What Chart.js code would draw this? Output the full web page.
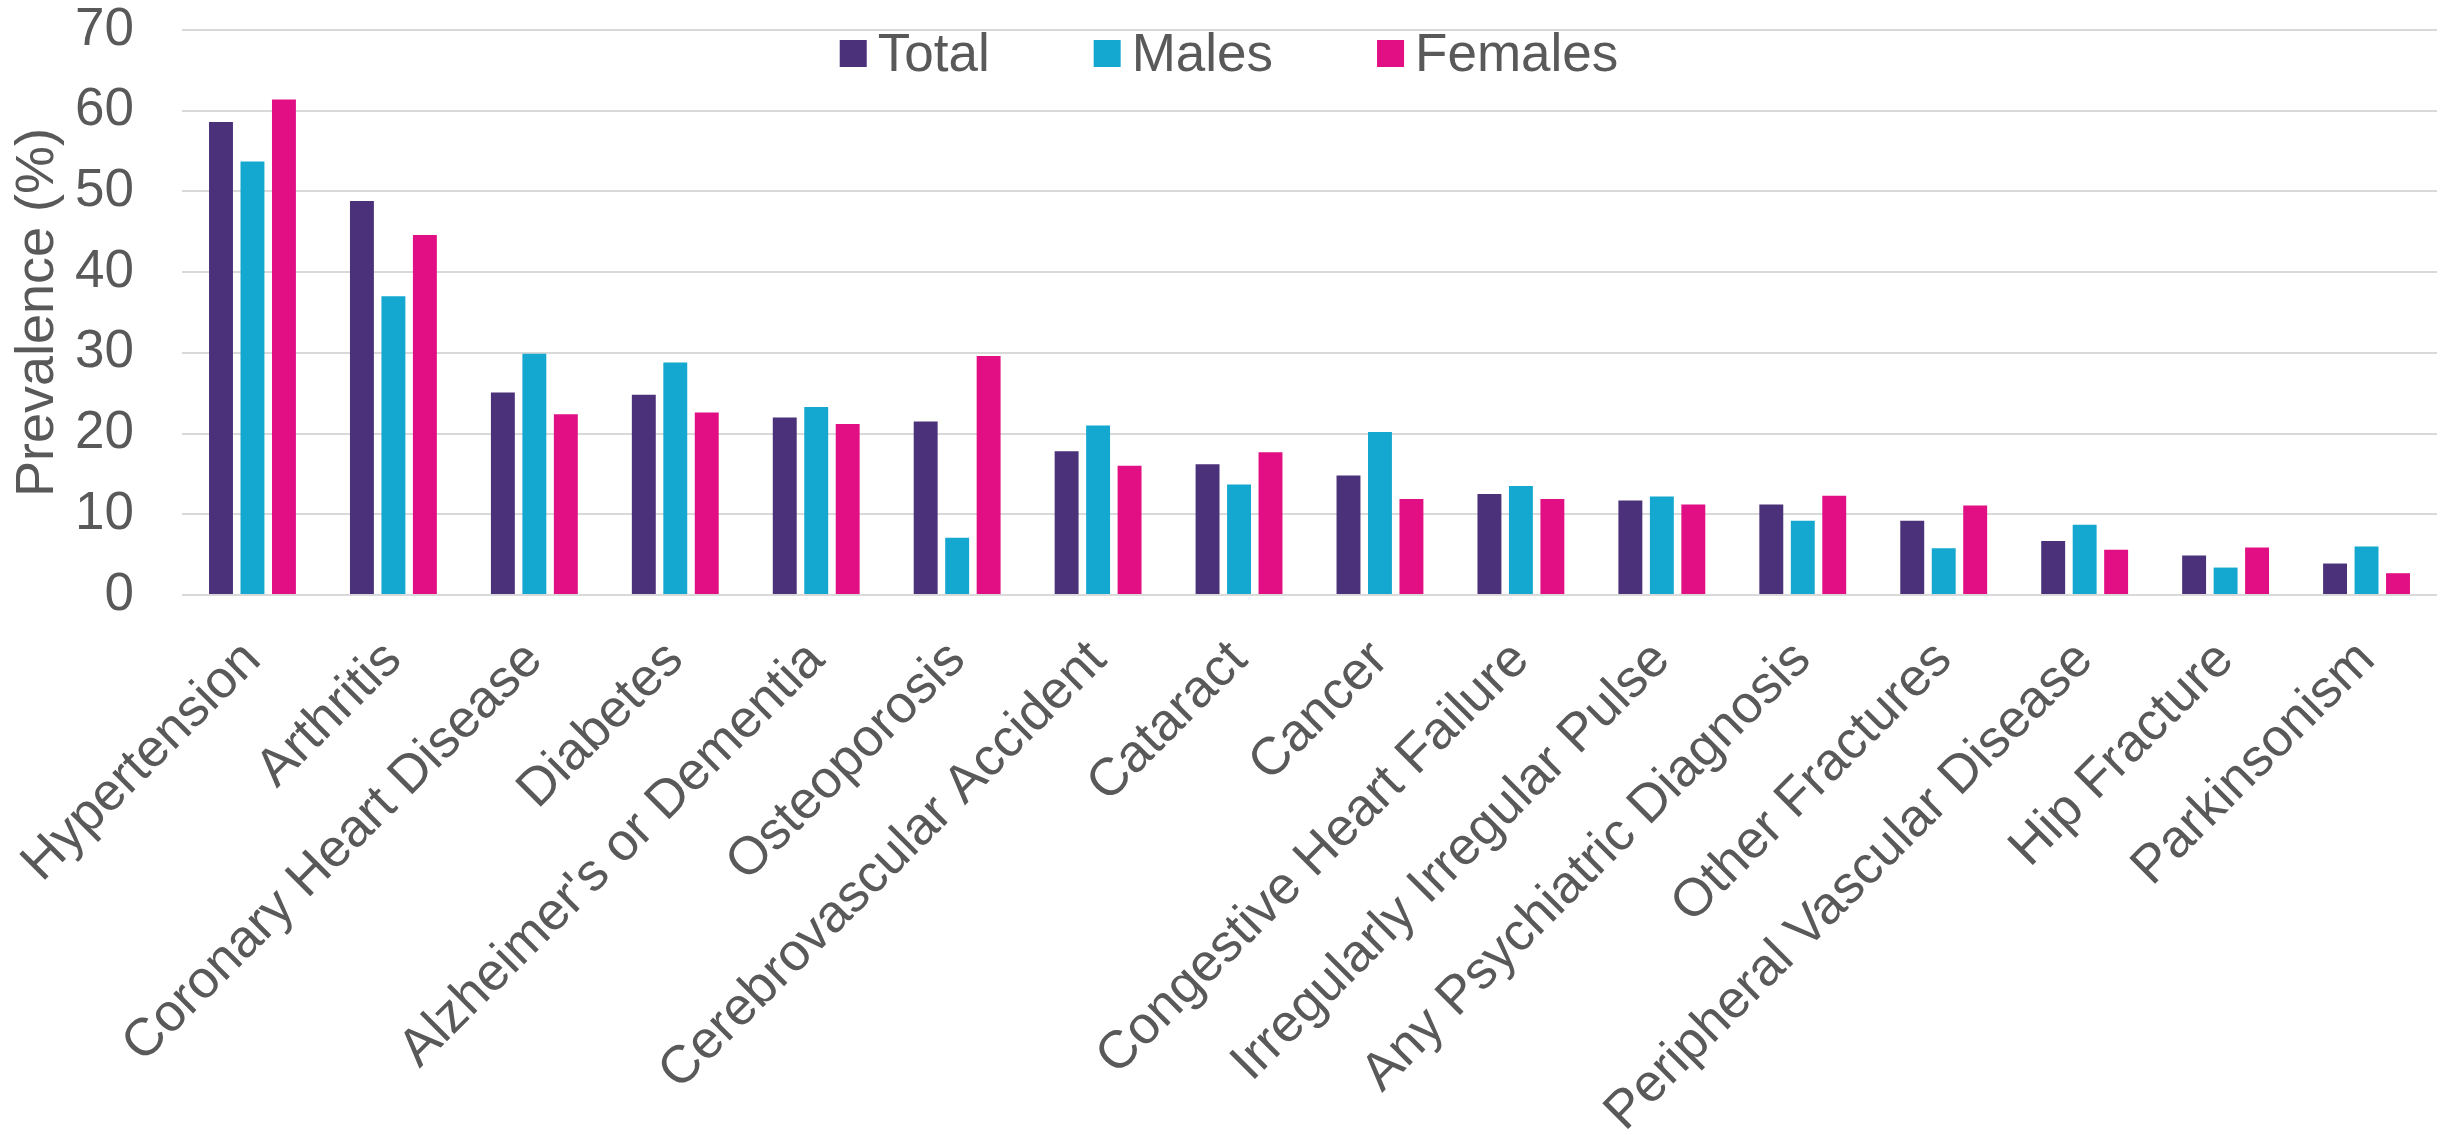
<!DOCTYPE html>
<html>
<head>
<meta charset="utf-8">
<script src="https://cdn.jsdelivr.net/npm/chart.js@4.4.1/dist/chart.umd.min.js"></script>
<style>
  html, body { margin: 0; padding: 0; background: #ffffff; }
  #wrap { width: 2450px; height: 1135px; }
</style>
</head>
<body>
<div id="wrap"><canvas id="c" width="2450" height="1135"></canvas></div>
<script>
const categories = [
  "Hypertension", "Arthritis", "Coronary Heart Disease", "Diabetes",
  "Alzheimer's or Dementia", "Osteoporosis", "Cerebrovascular Accident",
  "Cataract", "Cancer", "Congestive Heart Failure", "Irregularly Irregular Pulse",
  "Any Psychiatric Diagnosis", "Other Fractures", "Peripheral Vascular Disease",
  "Hip Fracture", "Parkinsonism"
];
const seriesNames = ["Total", "Males", "Females"];
const totalValues  = [58.6, 48.8, 25.1, 24.8, 22.0, 21.5, 17.8, 16.2, 14.8, 12.5, 11.7, 11.2, 9.2, 6.7, 4.9, 3.9];
const maleValues   = [53.7, 37.0, 29.9, 28.8, 23.3, 7.1, 21.0, 13.7, 20.2, 13.5, 12.2, 9.2, 5.8, 8.7, 3.4, 6.0];
const femaleValues = [61.4, 44.6, 22.4, 22.6, 21.2, 29.6, 16.0, 17.7, 11.9, 11.9, 11.2, 12.3, 11.1, 5.6, 5.9, 2.7];
const yTicks = [0, 10, 20, 30, 40, 50, 60, 70];
const yTitle = "Prevalence (%)";

const colors = ["#4A317A", "#14A8D0", "#E20E84"];
const textColor = "#595959";
const fontFamily = "'Liberation Sans', Arial, sans-serif";

const overlayLegend = {
  id: 'overlayLegend',
  afterDraw(chart) {
    const ctx = chart.ctx;
    const fontSize = 53, box = 27, gapText = 11, gapItem = 104;
    ctx.save();
    ctx.font = fontSize + "px " + fontFamily;
    ctx.textBaseline = 'alphabetic';
    ctx.textAlign = 'left';
    const items = chart.data.datasets.map(d => ({ label: d.label, color: d.backgroundColor, w: ctx.measureText(d.label).width }));
    let total = 0;
    items.forEach((it, i) => { total += box + gapText + it.w + (i < items.length - 1 ? gapItem : 0); });
    let x = chart.width / 2 - total / 2 + 4;
    const yTop = chart.chartArea.top + 10;
    items.forEach(it => {
      ctx.fillStyle = it.color;
      ctx.fillRect(x, yTop, box, box);
      ctx.fillStyle = textColor;
      ctx.fillText(it.label, x + box + gapText, yTop + 31);
      x += box + gapText + it.w + gapItem;
    });
    ctx.restore();
  }
};

new Chart(document.getElementById('c'), {
  type: 'bar',
  data: {
    labels: categories,
    datasets: [
      { label: seriesNames[0], data: totalValues,  backgroundColor: colors[0] },
      { label: seriesNames[1], data: maleValues,   backgroundColor: colors[1] },
      { label: seriesNames[2], data: femaleValues, backgroundColor: colors[2] }
    ]
  },
  options: {
    responsive: false,
    animation: false,
    devicePixelRatio: 1,
    layout: { padding: { left: 0, right: 13, top: 30, bottom: 0 } },
    datasets: { bar: { barPercentage: 0.76, categoryPercentage: 0.67 } },
    plugins: {
      legend: { display: false },
      tooltip: { enabled: false }
    },
    scales: {
      x: {
        grid: { display: false, drawTicks: false },
        border: { display: false },
        afterFit(scale) { scale.paddingLeft = 0; scale.paddingRight = 0; scale.height = 540; },
        ticks: {
          autoSkip: false,
          minRotation: 45,
          maxRotation: 45,
          padding: 34,
          labelOffset: 0,
          color: textColor,
          font: { family: fontFamily, size: 53, lineHeight: 1.2 }
        }
      },
      y: {
        min: 0,
        max: 70,
        afterBuildTicks(scale) { scale.ticks = yTicks.map(v => ({ value: v })); },
        afterFit(scale) { scale.width = 182; },
        grid: { color: '#D9D9D9', lineWidth: 2, drawTicks: true, tickLength: 46, tickColor: 'rgba(0,0,0,0)' },
        border: { display: false },
        ticks: {
          padding: 2,
          color: textColor,
          font: { family: fontFamily, size: 53, lineHeight: 1.0 }
        },
        title: {
          display: true,
          text: yTitle,
          color: textColor,
          font: { family: fontFamily, size: 54 },
          padding: { top: 6, bottom: 0 }
        }
      }
    }
  },
  plugins: [overlayLegend]
});
</script>
</body>
</html>
